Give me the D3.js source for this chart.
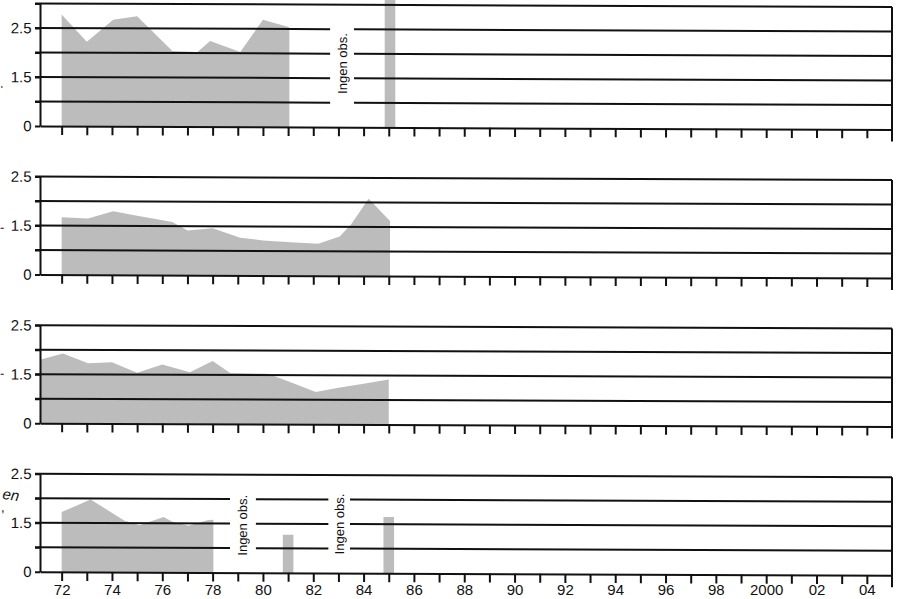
<!DOCTYPE html>
<html>
<head>
<meta charset="utf-8">
<script src="https://cdn.jsdelivr.net/npm/d3@7"></script>
<style>
  html, body { margin: 0; padding: 0; background: #fff; }
  svg { display: block; font-family: "Liberation Sans", Arial, Helvetica, sans-serif; }
</style>
</head>
<body>
<div id="chart"></div>
<script>
// values; y is in grid steps (distance between two rules)

var tickYears = d3.range(1972, 2005);
var labelYears = d3.range(1972, 2005, 2);
var yLabelSteps = [0, 2, 4];
var yLabels = ["0", "1.5", "2.5"];

var panel1Series = [[1972, 4.55], [1973, 3.45], [1974.05, 4.35], [1975, 4.5], [1976.4, 3.08],
  [1977.4, 3.05], [1977.9, 3.5], [1979.1, 3.05], [1980, 4.37], [1981.05, 4.07]];
var panel2Series = [[1972, 2.34], [1973.05, 2.3], [1974.05, 2.6], [1975, 2.42], [1976.4, 2.17],
  [1977, 1.82], [1978, 1.92], [1979.1, 1.54], [1980, 1.43], [1981.1, 1.36], [1982.2, 1.3],
  [1983.05, 1.6], [1983.5, 2.1], [1984.2, 3.15], [1985.05, 2.25]];
var panel3Series = [[1971.14, 2.59], [1972.05, 2.85], [1973.05, 2.45], [1974, 2.5], [1975, 2.08],
  [1976, 2.42], [1977.1, 2.1], [1978, 2.57], [1978.7, 2.08], [1980.2, 2.06], [1981, 1.75],
  [1982.1, 1.32], [1983, 1.5], [1984, 1.66], [1985, 1.84]];
var panel4Series = [[1972, 2.44], [1973.15, 2.96], [1974.5, 2.1], [1975.1, 1.92], [1976.05, 2.26],
  [1976.4, 2.06], [1977.05, 1.9], [1977.8, 2.13], [1978.03, 2.15]];

// single observations drawn as narrow bars
var panel1Bars = [[1985.05, 5.4]];
var panel4Bars = [[1981, 1.55], [1985, 2.29]];

// years without observations ("Ingen obs.")
var panel1Gaps = [[1982.67, 1983.62]];
var panel4Gaps = [[1978.69, 1979.72], [1982.6, 1983.46]];
var panel1GapText = [2.6];
var panel4GapText = [1.93, 2.0];

var panels = [
  {series: panel1Series, bars: panel1Bars, gaps: panel1Gaps, gapText: panel1GapText, top: 5},
  {series: panel2Series, bars: [], gaps: [], gapText: [], top: 4},
  {series: panel3Series, bars: [], gaps: [], gapText: [], top: 4},
  {series: panel4Series, bars: panel4Bars, gaps: panel4Gaps, gapText: panel4GapText, top: 4, labels: true}
];

var width = 905, height = 599;
var left = 40, right = 892;
var unit = 24.5, firstBase = 126, panelStep = 148.6;
var ink = "#111", fill = "#bcbcbc";
var barHalf = 0.21;

var x = d3.scaleLinear()
  .domain([1971.14, 2005])
  .range([left, right]);

var svg = d3.select('#chart').append('svg')
  .attr('width', width)
  .attr('height', height);

// the scan is slightly sheared, rules drop ~3px from left to right
var g = svg.append('g')
  .attr('transform', 'translate(40,0) skewY(0.23) translate(-40,0)');

panels.forEach(function (p, i) {
  var base = firstBase + i * panelStep;
  var y = d3.scaleLinear()
    .domain([0, p.top])
    .range([base, base - p.top * unit]);

  var pg = g.append('g').attr('class', 'panel');

  // fills
  var area = d3.area()
    .x(function (d) { return x(d[0]); })
    .y0(y(0))
    .y1(function (d) { return y(d[1]); });

  pg.append('path')
    .datum(p.series)
    .attr('d', area)
    .attr('fill', fill);

  pg.selectAll('.bar')
    .data(p.bars)
    .enter().append('rect')
    .attr('class', 'bar')
    .attr('x', function (d) { return x(d[0] - barHalf); })
    .attr('width', function (d) { return x(d[0] + barHalf) - x(d[0] - barHalf); })
    .attr('y', function (d) { return y(d[1]); })
    .attr('height', function (d) { return y(0) - y(d[1]); })
    .attr('fill', fill);

  // rules, broken where there are no observations
  d3.range(1, p.top + 1).forEach(function (s) {
    var segs = [];
    var start = left - 5;
    if (s < p.top) {
      p.gaps.forEach(function (gp) {
        segs.push([start, x(gp[0])]);
        start = x(gp[1]);
      });
    }
    segs.push([start, right]);
    segs.forEach(function (sg) {
      pg.append('line')
        .attr('x1', sg[0]).attr('x2', sg[1])
        .attr('y1', y(s)).attr('y2', y(s))
        .attr('stroke', ink)
        .attr('stroke-width', 2);
    });
  });

  pg.selectAll('.gaptext')
    .data(p.gaps)
    .enter().append('text')
    .attr('class', 'gaptext')
    .attr('transform', function (d, j) {
      return 'translate(' + x((d[0] + d[1]) / 2) + ',' + y(p.gapText[j]) + ') rotate(-90)';
    })
    .attr('text-anchor', 'middle')
    .attr('dy', '0.35em')
    .attr('font-size', 13)
    .attr('fill', ink)
    .text('Ingen obs.');

  // left axis
  var yAxis = d3.axisLeft(y)
    .tickValues(d3.range(0, p.top + 1))
    .tickSize(5)
    .tickSizeOuter(0)
    .tickPadding(3.5)
    .tickFormat(function (d) {
      var k = yLabelSteps.indexOf(d);
      return k < 0 ? '' : yLabels[k];
    });

  var ya = pg.append('g')
    .attr('transform', 'translate(' + left + ',0)')
    .call(yAxis);
  ya.selectAll('path, line').attr('stroke', ink).attr('stroke-width', 2);
  ya.selectAll('text').attr('font-size', 15).attr('fill', ink);

  // bottom axis with a tick for every year
  var xAxis = d3.axisBottom(x)
    .tickValues(tickYears)
    .tickSize(9)
    .tickSizeOuter(0)
    .tickFormat('');

  var xa = pg.append('g')
    .attr('transform', 'translate(0,' + base + ')')
    .call(xAxis);
  xa.selectAll('path, line').attr('stroke', ink).attr('stroke-width', 2);

  // year labels are not sheared, so they stay inside the page
  if (p.labels) {
    var labelAxis = d3.axisBottom(x)
      .tickValues(labelYears)
      .tickSize(0)
      .tickPadding(13)
      .tickFormat(function (d) {
        return d === 2000 ? '2000' : String(d % 100).padStart(2, '0');
      });
    var la = svg.append('g')
      .attr('transform', 'translate(0,' + base + ')')
      .call(labelAxis);
    la.select('.domain').remove();
    la.selectAll('text').attr('font-size', 15).attr('fill', ink);
  }

  // right frame
  pg.append('line')
    .attr('x1', right).attr('x2', right)
    .attr('y1', y(p.top)).attr('y2', base + 12)
    .attr('stroke', ink)
    .attr('stroke-width', 2);
});

// leftovers of the cut-off axis titles at the left edge
var edgeBits = [[0, 88, '.'], [0, 232, '-'], [0, 378, '-']];
g.selectAll('.edge')
  .data(edgeBits)
  .enter().append('text')
  .attr('class', 'edge')
  .attr('x', function (d) { return d[0]; })
  .attr('y', function (d) { return d[1]; })
  .attr('font-size', 13)
  .attr('fill', ink)
  .text(function (d) { return d[2]; });

g.append('text')
  .attr('transform', 'translate(2,499) rotate(8)')
  .attr('font-size', 15)
  .attr('font-style', 'italic')
  .attr('fill', ink)
  .text('en');
g.append('text')
  .attr('x', 1).attr('y', 512)
  .attr('font-size', 13)
  .attr('fill', ink)
  .text(',');
</script>
</body>
</html>
